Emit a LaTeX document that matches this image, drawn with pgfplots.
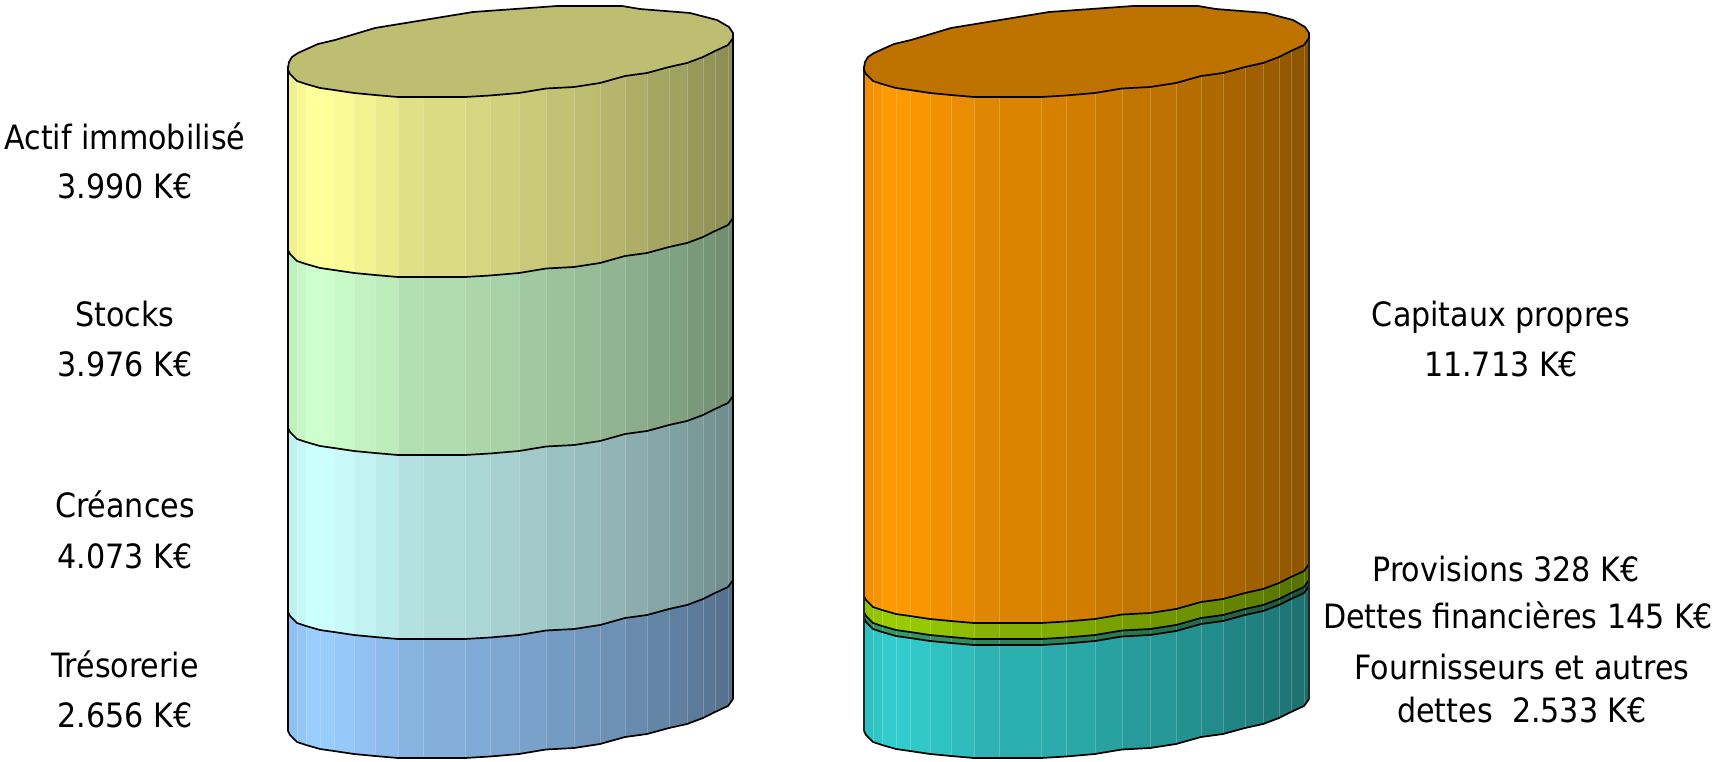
\documentclass[border=0pt]{standalone}
\usepackage{pgfplots}
\usepackage{pgfplotstable}
\usepackage{fontspec}
\setmainfont{DejaVu Sans Condensed}
\pgfplotsset{compat=1.18}
% one colormap: black to base colour for each of the eight series, in turn
\pgfplotsset{
 colormap={bands}{
  rgb255=(0,0,0) rgb255=(255,255,153)
  rgb255=(0,0,0) rgb255=(204,255,204)
  rgb255=(0,0,0) rgb255=(204,255,255)
  rgb255=(0,0,0) rgb255=(153,204,255)
  rgb255=(0,0,0) rgb255=(255,153,0)
  rgb255=(0,0,0) rgb255=(153,204,0)
  rgb255=(0,0,0) rgb255=(51,153,102)
  rgb255=(0,0,0) rgb255=(51,204,204)
 },
}
\definecolor{capA}{RGB}{190,190,115}
\definecolor{capB}{RGB}{190,114,0}
% front contour of the top face: x, y (pixels), shade of the strip to the right; k = edge of the band
\pgfplotstableread{
x yf s k
288 70 .94 0
290 74 .94 0
297 81 .97 0
306 84 1 0
320 88 1 0
334 90 .98 0
354 93 .95 0
375 95 .92 0
398 97 .88 0
423 97 .86 0
465 97 .84 0
490 95.5 .82 0
519 93 .79 0
546 88.5 .76 0
574 87 .74 0
600 83 .71 0
625 76 .68 0
647 73 .65 0
669 67 .63 0
687 63 .60 0
703 57 .58 0
715 51 .56 0
728 45 .54 0
733 38 .52 0
288 70 .94 1
290 74 .94 1
297 81 .97 1
306 84 1 1
320 88 1 1
334 90 .98 1
354 93 .95 1
375 95 .92 1
398 97 .88 1
423 97 .86 1
465 97 .84 1
490 95.5 .82 1
519 93 .79 1
546 88.5 .76 1
574 87 .74 1
600 83 .71 1
625 76 .68 1
647 73 .65 1
669 67 .63 1
687 63 .60 1
703 57 .58 1
715 51 .56 1
728 45 .54 1
733 38 .52 1
}\side
\pgfplotstableread{
x y
288 68
289 62
292 57
298 53
318 44
335 40
375 28
473 12
557 6
622 6
640 9
690 13
717 20
729 27
733 33
733 38
728 45
715 51
703 57
687 63
669 67
647 73
625 76
600 83
574 87
546 88.5
519 93
490 95.5
465 97
423 97
398 97
375 95
354 93
334 90
320 88
306 84
297 81
290 74
288 70
}\cap
% band: x shift, dy of its top, dy of its bottom, index in the colormap
\newcommand\band[4]{%
 \addplot[surf,mesh/rows=2,shader=flat corner,point meta={\thisrow{s}+#4}]
  table[x expr=\thisrow{x}+#1,y expr=\thisrow{yf}+#2+\thisrow{k}*(#3-#2)]{\side};
}
\newcommand\edge[2]{%
 \addplot[black,line width=1.7bp,line join=round,restrict expr to domain={\thisrow{k}}{0:0}]
  table[x expr=\thisrow{x}+#1,y expr=\thisrow{yf}+#2]{\side};
}
\newcommand\seams[3]{%
 \addplot[white,opacity=.22,line width=.6bp,quiver={u=0,v=661},-,
   restrict expr to domain={\thisrow{k}}{0:0},restrict x to domain=#2:#3]
  table[x expr=\thisrow{x}+#1,y=yf]{\side};
}
\newcommand\lab[3]{\node[anchor=base,inner sep=0pt,font=\fontsize{33.5bp}{40bp}\selectfont] at (axis cs:#1,#2) {#3};}
\begin{document}
\begin{tikzpicture}
\useasboundingbox (0,0) rectangle (1715bp,762bp);
\begin{axis}[at={(0,0)},anchor=south west,scale only axis,width=1715bp,height=762bp,
 xmin=0,xmax=1715,ymin=0,ymax=762,y dir=reverse,hide axis,clip=false,
 colormap name=bands,point meta min=0,point meta max=15]
% left cylinder
\band{0}{0}{180}{0}
\band{0}{180}{358}{2}
\band{0}{358}{542}{4}
\band{0}{542}{661}{6}
\seams{0}{297}{728}
\edge{0}{180}\edge{0}{358}\edge{0}{542}\edge{0}{661}
\addplot[black,line width=1.7bp] coordinates {(288,66) (288,731)};
\addplot[black,line width=1.7bp] coordinates {(733,33) (733,699)};
\addplot[fill=capA,draw=black,line width=1.7bp,line join=round] table[x=x,y=y]{\cap} --cycle;
% right cylinder
\band{576}{0}{526}{8}
\band{576}{526}{542}{10}
\band{576}{542}{548}{12}
\band{576}{548}{661}{14}
\seams{576}{873}{1304}
\edge{576}{526}\edge{576}{542}\edge{576}{548}\edge{576}{661}
\addplot[black!85,line width=1.4bp] coordinates {(864,66) (864,731)};
\addplot[black!85,line width=1.4bp] coordinates {(1309,33) (1309,699)};
\addplot[fill=capB,draw=black,line width=1.7bp,line join=round] table[x expr=\thisrow{x}+576,y=y]{\cap} --cycle;
% labels
\lab{125}{150}{Actif immobilisé}
\lab{125}{199}{3.990 K€}
\lab{125}{326}{Stocks}
\lab{125}{376}{3.976 K€}
\lab{125}{517}{Créances}
\lab{125}{568}{4.073 K€}
\lab{125}{677}{Trésorerie}
\lab{125}{727}{2.656 K€}
\lab{1501}{326}{Capitaux propres}
\lab{1501}{376}{11.713 K€}
\lab{1506}{581}{Provisions 328 K€}
\lab{1518}{628}{Dettes financières 145 K€}
\lab{1522}{679}{Fournisseurs et autres}
\lab{1522}{722}{dettes\ \ 2.533 K€}
\end{axis}
\end{tikzpicture}
\end{document}
